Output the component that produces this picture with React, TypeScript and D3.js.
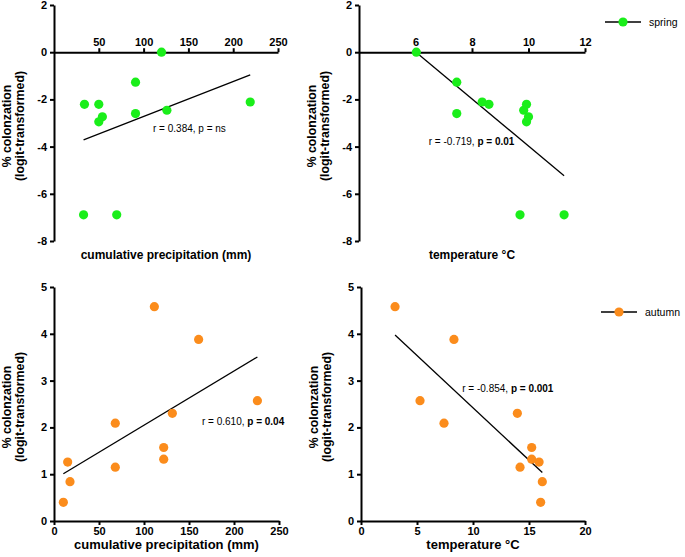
import React, { useEffect, useRef } from 'react'
import * as d3 from 'd3'

// spring samples (logit-transformed colonization)
const springColonization = [0, -1.27, -2.6, -2.11, -2.21, -2.21, -2.46, -2.74, -2.95, -6.89, -6.89]
const springPrecipitation = [120, 91, 91, 219, 34, 50, 126, 54, 50, 33, 70]
const springTemperature = [6.03, 7.46, 7.46, 8.36, 8.6, 9.93, 9.83, 10.0, 9.93, 9.7, 11.26]

// autumn samples
const autumnColonization = [4.58, 3.88, 2.57, 2.09, 2.3, 1.57, 1.32, 1.26, 1.15, 0.84, 0.4]
const autumnPrecipitation = [111.5, 160.7, 226, 68.1, 131.5, 121.9, 121.9, 15.2, 68.1, 17.8, 10.4]
const autumnTemperature = [3.04, 8.3, 5.27, 7.41, 13.96, 15.24, 15.24, 15.9, 14.2, 16.19, 16.04]

const springYTicks = [2, 0, -2, -4, -6, -8]
const autumnYTicks = [0, 1, 2, 3, 4, 5]
const precipTicksTop = [50, 100, 150, 200, 250]
const tempTicksTop = [6, 8, 10, 12]
const precipTicksBottom = [0, 50, 100, 150, 200, 250]
const tempTicksBottom = [0, 5, 10, 15, 20]

const GREEN = '#1aee1a'
const ORANGE = '#fb8c1c'
const FONT = '"Liberation Sans", Arial, sans-serif'
const TICK_FONT = '"Liberation Sans Narrow", "Liberation Sans", Arial, sans-serif'

interface Panel {
  xs: number[]
  ys: number[]
  xDomain: [number, number]
  yDomain: [number, number]
  xRange: [number, number]
  yRange: [number, number]
  xTicks: number[]
  yTicks: number[]
  xAxisAtZero: boolean
  xTitle: string
  titleSize: number
  color: string
  stat: string
  pText: string
  pBold: boolean
  statAt: [number, number]
}

const panels: Panel[] = [
  {
    xs: springPrecipitation, ys: springColonization,
    xDomain: [0, 250], yDomain: [-8, 2], xRange: [54, 278], yRange: [241, 5],
    xTicks: precipTicksTop, yTicks: springYTicks, xAxisAtZero: true,
    xTitle: 'cumulative precipitation (mm)', titleSize: 12, color: GREEN,
    stat: 'r = 0.384, ', pText: 'p = ns', pBold: false, statAt: [110.5, -3.22]
  },
  {
    xs: springTemperature, ys: springColonization,
    xDomain: [4, 12], yDomain: [-8, 2], xRange: [359, 585], yRange: [241, 5],
    xTicks: tempTicksTop, yTicks: springYTicks, xAxisAtZero: true,
    xTitle: 'temperature °C', titleSize: 12, color: GREEN,
    stat: 'r = -0.719, ', pText: 'p = 0.01', pBold: true, statAt: [6.47, -3.8]
  },
  {
    xs: autumnPrecipitation, ys: autumnColonization,
    xDomain: [0, 250], yDomain: [0, 5], xRange: [54, 279], yRange: [521, 287],
    xTicks: precipTicksBottom, yTicks: autumnYTicks, xAxisAtZero: false,
    xTitle: 'cumulative precipitation (mm)', titleSize: 13, color: ORANGE,
    stat: 'r = 0.610, ', pText: 'p = 0.04', pBold: true, statAt: [164.4, 2.13]
  },
  {
    xs: autumnTemperature, ys: autumnColonization,
    xDomain: [0, 20], yDomain: [0, 5], xRange: [361, 585], yRange: [521, 287],
    xTicks: tempTicksBottom, yTicks: autumnYTicks, xAxisAtZero: false,
    xTitle: 'temperature °C', titleSize: 13, color: ORANGE,
    stat: 'r = -0.854, ', pText: 'p = 0.001', pBold: true, statAt: [9.04, 2.84]
  }
]

const legends = [
  { label: 'spring', color: GREEN, x: 605, y: 22 },
  { label: 'autumn', color: ORANGE, x: 601, y: 312 }
]

// least squares fit
const fit = (xs: number[], ys: number[]) => {
  const mx = d3.mean(xs)!
  const my = d3.mean(ys)!
  let sxy = 0
  let sxx = 0
  xs.forEach((x, i) => {
    sxy += (x - mx) * (ys[i] - my)
    sxx += (x - mx) * (x - mx)
  })
  const slope = sxy / sxx
  return (x: number) => my + slope * (x - mx)
}

export default function App() {
  const svgRef = useRef<SVGSVGElement>(null)

  useEffect(() => {
    if (!svgRef.current) return
    const svg = d3.select(svgRef.current)
    svg.selectAll('*').remove()

    panels.forEach(p => {
      const x = d3.scaleLinear().domain(p.xDomain).range(p.xRange)
      const y = d3.scaleLinear().domain(p.yDomain).range(p.yRange)
      const g = svg.append('g')
      const fmt = (d: d3.NumberValue) => String(d)

      // y axis
      const yAxis = g.append('g')
        .attr('transform', `translate(${p.xRange[0]},0)`)
        .call(d3.axisLeft(y).tickValues(p.yTicks).tickFormat(fmt).tickSize(4).tickSizeOuter(0).tickPadding(3))
      // x axis
      const xAxisY = p.xAxisAtZero ? y(0) : p.yRange[0]
      const xAxis = g.append('g')
        .attr('transform', `translate(0,${xAxisY})`)
        .call((p.xAxisAtZero ? d3.axisTop(x) : d3.axisBottom(x))
          .tickValues(p.xTicks).tickFormat(fmt).tickSize(4).tickSizeOuter(0).tickPadding(2))
      ;[xAxis, yAxis].forEach(a => {
        a.selectAll('path, line').attr('stroke', '#000').attr('stroke-width', 2)
        a.selectAll('text')
          .attr('fill', '#000')
          .style('font-family', TICK_FONT)
          .style('font-size', '11px')
          .style('font-weight', 'bold')
      })

      // regression line
      const f = fit(p.xs, p.ys)
      const [x0, x1] = d3.extent(p.xs) as [number, number]
      g.append('line')
        .attr('x1', x(x0)).attr('y1', y(f(x0)))
        .attr('x2', x(x1)).attr('y2', y(f(x1)))
        .attr('stroke', '#000')
        .attr('stroke-width', 1.3)

      // points
      g.selectAll('circle')
        .data(p.xs)
        .enter()
        .append('circle')
        .attr('cx', d => x(d))
        .attr('cy', (d, i) => y(p.ys[i]))
        .attr('r', 4.6)
        .attr('fill', p.color)

      // stat label
      const t = g.append('text')
        .attr('x', x(p.statAt[0]))
        .attr('y', y(p.statAt[1]))
        .attr('dy', '0.35em')
        .style('font-family', FONT)
        .style('font-size', '10px')
        .attr('fill', '#000')
      t.append('tspan').text(p.stat)
      t.append('tspan').text(p.pText).style('font-weight', p.pBold ? 'bold' : 'normal')

      // x title
      g.append('text')
        .attr('x', (p.xRange[0] + p.xRange[1]) / 2)
        .attr('y', p.yRange[0] + (p.xAxisAtZero ? 14 : 23))
        .attr('dy', '0.35em')
        .attr('text-anchor', 'middle')
        .style('font-family', FONT)
        .style('font-size', `${p.titleSize}px`)
        .style('font-weight', 'bold')
        .text(p.xTitle)

      // y title
      const cy = (p.yRange[0] + p.yRange[1]) / 2
      const yt = g.append('text')
        .attr('transform', `translate(${p.xRange[0] - 47},${cy + 3}) rotate(-90)`)
        .attr('text-anchor', 'middle')
        .style('font-family', FONT)
        .style('font-size', '12.3px')
        .style('font-weight', 'bold')
      yt.append('tspan').attr('x', 0).attr('dy', '0.35em').text('% colonzation')
      yt.append('tspan').attr('x', 0).attr('dy', '1.03em').text('(logit-transformed)')
    })

    legends.forEach(l => {
      const g = svg.append('g').attr('transform', `translate(${l.x},${l.y})`)
      g.append('line').attr('x1', 0).attr('x2', 36).attr('stroke', '#000').attr('stroke-width', 1.5)
      g.append('circle').attr('cx', 18).attr('r', 4.6).attr('fill', l.color)
      g.append('text')
        .attr('x', 44)
        .attr('dy', '0.35em')
        .style('font-family', FONT)
        .style('font-size', '10.5px')
        .text(l.label)
    })
  }, [])

  return (
    <svg
      ref={svgRef}
      width={685}
      height={557}
      style={{ position: 'absolute', left: 0, top: 0, background: '#fff' }}
    />
  )
}
